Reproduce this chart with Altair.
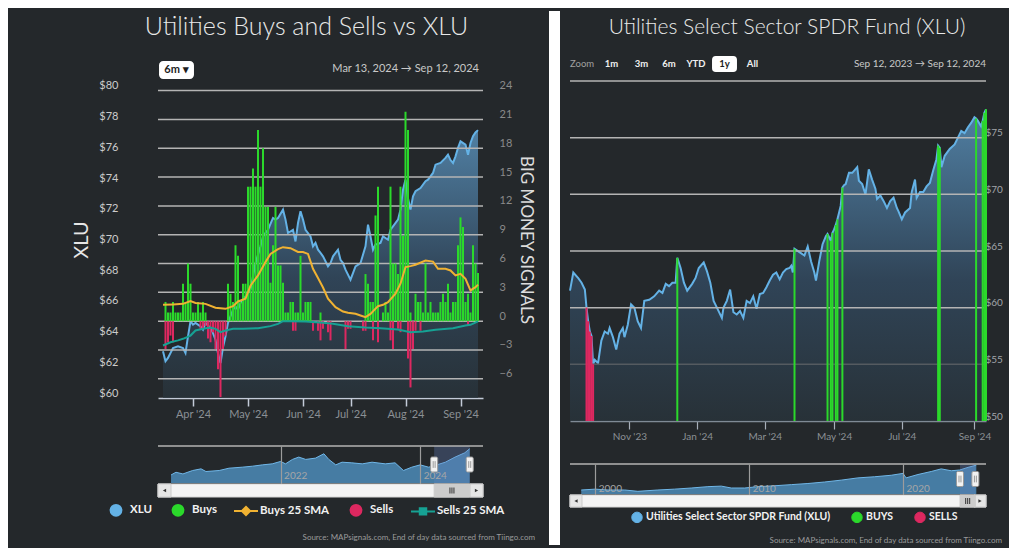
import json
import altair as alt
import pandas as pd

# ------------------------------------------------------------------ styling
BG = "#24282b"
XLU_BLUE = "#64b2e6"
GREEN = "#2bd92b"
RED = "#dd2860"
YELLOW = "#f0b232"
TEAL = "#16a294"
GRID = "#b4b4b4"
FONT = "Lato"
SOURCE = "Source: MAPsignals.com, End of day data sourced from Tiingo.com"

# ------------------------------------------------------------------ LEFT panel data
# x = trading-day index, 0 = Mar 13 2024 ... 126 = Sep 12 2024
l_xlu = [(0,63.04),(1,62.39),(2,62.61),(4,63.26),(6,63.37),(8,63.26),(9,62.93),(10,64.02),(11,65.0),
         (12,64.78),(13,64.89),(15,64.67),(16,64.45),(17,64.89),(19,64.56),(20,64.23),(21,63.8),(22,62.9),
         (23,62.28),(24,63.3),(25,64.02),(26,64.89),(28,65.75),(29,65.97),(30,65.75),(31,66.19),(33,66.62),
         (35,67.06),(36,67.93),(37,68.79),(39,69.88),(40,70.53),(41,70.75),(42,70.96),(44,71.73),(45,71.62),
         (46,71.73),(48,72.27),(49,71.62),(50,70.75),(52,70.96),(53,70.2),(54,71.4),(55,72.16),(56,71.62),
         (57,70.96),(59,70.53),(60,69.88),(61,70.1),(62,69.66),(63,69.45),(64,69.23),(66,68.58),(67,68.79),
         (68,69.23),(70,69.66),(71,69.0),(72,68.79),(73,68.36),(75,67.71),(76,68.14),(77,68.58),(79,68.79),
         (81,69.88),(82,71.29),(83,70.53),(84,69.66),(85,70.0),(87,70.1),(88,70.53),(90,70.31),(91,70.96),
         (92,71.18),(94,71.62),(95,72.27),(96,73.57),(97,74.22),(98,73.0),(99,72.27),(100,73.14),(101,73.47),
         (103,73.68),(105,74.12),(106,74.22),(108,74.66),(109,75.2),(111,75.31),(113,75.64),(114,75.85),
         (115,75.5),(116,75.31),(117,75.74),(118,76.29),(119,76.72),(121,76.5),(122,75.85),(123,76.61),
         (124,77.05),(125,77.3),(126,77.45)]
l_buys = [(1,2.0),(2,0.9),(3,0.9),(4,2.0),(5,0.9),(6,0.9),(7,0.9),(8,3.9),(9,2.0),(10,6.0),(11,3.9),(12,0.9),
          (13,0.9),(14,2.0),(15,0.9),(16,2.0),(17,0.9),(26,3.9),(27,2.85),(28,2.0),(29,7.9),(30,6.8),(31,2.0),
          (32,3.9),(33,3.9),(34,14),(35,14),(36,15.9),(37,14),(38,19.9),(39,14),(40,18),(41,11.9),(42,11.9),
          (43,4),(44,7.9),(45,11.9),(46,5.8),(47,5.8),(48,4),(49,0.9),(50,0.9),(51,2),(52,2),(53,0.9),(54,0.9),
          (55,6.8),(56,0.9),(57,2),(58,2),(59,2),(63,0.9),(81,4.9),(82,3.9),(83,2.0),(84,2.0),(85,11),(86,14),
          (88,0.9),(89,2.0),(90,0.9),(91,14),(92,6),(93,6),(94,4.9),(95,14),(96,8.9),(97,21.8),(98,19.9),
          (99,0.9),(101,2.85),(102,2.0),(103,2.0),(104,0.9),(105,6),(106,0.9),(107,2.0),(108,0.9),(109,0.9),
          (110,0.9),(111,2.0),(112,2.85),(113,2.0),(114,3.9),(115,0.9),(116,2.0),(117,2.0),(118,7.9),
          (119,10.8),(120,9.8),(121,2.0),(122,2.85),(123,0.9),(124,7.9),(125,6),(126,5)]
l_sells = [(1,-2.9),(2,-2.2),(3,-1.5),(4,-2.2),(15,-0.8),(16,-0.8),(17,-0.5),(18,-1.8),(19,-2.2),(20,-1.15),
           (21,-2.9),(22,-5.0),(23,-7.9),(24,-2.9),(25,-1.5),(52,-1.0),(53,-1.0),(60,-1.0),(62,-1.0),(63,-2.0),
           (64,-0.8),(66,-1.15),(67,-2.0),(73,-2.9),(74,-0.8),(75,-0.8),(80,-1.0),(81,-1.0),(84,-2.0),(86,-2.2),
           (91,-2.0),(92,-2.9),(94,-0.8),(95,-1.15),(98,-3.9),(99,-6.9),(100,-2.9),(101,-1.0),(103,-1.0),
           (122,-0.5)]
l_buys_sma = [(0,1.7),(4,1.74),(8,1.8),(11,2.08),(13,1.9),(17,1.8),(21,1.39),(25,1.28),(28,1.56),(30,2.05),
              (33,2.33),(35,3.7),(38,4.76),(41,6.15),(43,7.0),(46,7.5),(48,7.7),(51,7.6),(54,7.2),(56,7.2),
              (58,7.0),(60,5.45),(62,4.5),(64,3.5),(66,2.33),(69,1.46),(72,1.0),(74,0.87),(77,0.76),(79,0.59),
              (81,0.42),(83,0.76),(86,1.56),(88,1.7),(90,1.98),(93,2.85),(95,3.9),(97,5.63),(99,5.73),
              (101,5.87),(105,6.3),(108,6.2),(110,5.45),(113,5.45),(115,5.28),(117,4.76),(119,4.93),(121,4.4),
              (123,3.2),(125,3.54),(126,3.8)]
l_sells_sma = [(0,-2.53),(3,-2.2),(6,-2.0),(8,-1.84),(11,-1.5),(13,-0.97),(16,-0.8),(19,-0.66),(21,-0.8),
               (23,-1.15),(25,-0.97),(28,-0.8),(32,-0.8),(38,-0.73),(43,-0.52),(46,-0.28),(48,0.0),(51,0.0),
               (57,-0.03),(64,-0.17),(68,-0.28),(74,-0.52),(81,-0.66),(87,-0.73),(94,-0.87),(99,-1.15),
               (104,-1.08),(109,-0.9),(116,-0.73),(121,-0.45),(123,-0.38),(126,-0.03)]
l_tick_day = [12, 34, 56, 75, 97, 119]
l_tick_lab = ["Apr '24", "May '24", "Jun '24", "Jul '24", "Aug '24", "Sep '24"]
l_price_ticks = [60, 62, 64, 66, 68, 70, 72, 74, 76, 78, 80]
l_signal_ticks = [-6, -3, 0, 3, 6, 9, 12, 15, 18, 21, 24]
# navigator (decimal year, level)
l_nav = [(2020.43,48.7),(2020.5,51.6),(2020.6,49.8),(2020.74,53.5),(2020.86,55.3),(2020.93,52.4),
         (2021.12,53.5),(2021.26,56.0),(2021.45,57.1),(2021.6,58.2),(2021.74,59.6),(2021.88,60.7),
         (2022.0,63.3),(2022.07,60.7),(2022.17,65.5),(2022.26,68.0),(2022.36,65.5),(2022.5,66.9),
         (2022.62,71.6),(2022.69,65.5),(2022.79,59.6),(2022.88,62.5),(2023.02,61.8),(2023.17,60.7),
         (2023.31,62.5),(2023.5,60.7),(2023.64,61.8),(2023.76,53.5),(2023.88,57.1),(2024.0,59.6),
         (2024.12,57.1),(2024.21,58.9),(2024.36,62.5),(2024.5,68.0),(2024.64,72.7),(2024.71,77.1)]
l_nav_years = [2022, 2024]
l_nav_domain = [2020.243, 2024.9]
l_nav_sel = [2024.2, 2024.71]
l_series = ["XLU", "Buys", "Buys 25 SMA", "Sells", "Sells 25 SMA"]

# ------------------------------------------------------------------ RIGHT panel data
# x = trading-day index, 0 = Sep 12 2023 ... 252 = Sep 12 2024
r_xlu = [(0,61.5),(2,63.1),(5,62.6),(7,62.2),(9,61.6),(10,60.0),(11,58.8),(12,57.9),(13,57.5),(14,55.0),
         (15,55.4),(17,55.1),(19,57.1),(21,57.9),(23,57.7),(24,58.2),(26,57.4),(28,56.3),(30,57.7),(32,58.2),
         (33,57.4),(35,58.5),(37,60.3),(39,60.0),(41,58.8),(43,58.2),(45,60.6),(48,60.7),(51,61.0),(54,61.5),
         (56,61.3),(58,62.1),(60,61.9),(62,62.2),(64,62.2),(65,64.4),(67,63.5),(69,62.2),(71,61.5),(74,62.1),
         (76,62.6),(78,63.5),(81,64.0),(83,63.2),(85,62.2),(87,60.6),(89,60.0),(92,59.1),(93,60.0),(95,60.6),
         (97,61.6),(99,59.6),(101,59.4),(103,59.7),(105,59.1),(107,60.6),(109,60.4),(111,61.0),(113,59.9),
         (115,61.2),(117,61.3),(119,61.8),(121,62.4),(123,62.9),(125,63.1),(127,62.5),(129,63.1),(131,63.4),
         (133,63.5),(134,63.7),(135,63.1),(136,65.2),(139,64.9),(142,64.6),(144,65.4),(146,64.1),(148,63.1),
         (149,62.4),(151,64.1),(153,65.6),(155,66.3),(156,66.5),(158,65.9),(159,66.6),(160,66.9),(161,67.3),
         (162,67.8),(163,68.4),(164,69.0),(165,70.6),(166,70.8),(167,70.9),(169,71.9),(171,71.9),(174,72.4),
         (175,71.2),(177,70.9),(179,70.0),(181,72.2),(183,71.3),(185,70.5),(186,69.6),(188,69.9),(190,69.4),
         (192,68.8),(194,69.4),(196,69.7),(198,68.8),(199,68.5),(201,67.8),(203,68.4),(206,68.8),(207,70.2),
         (209,71.3),(210,69.7),(212,70.2),(214,70.2),(216,70.7),(218,71.0),(220,72.1),(222,73.1),(223,74.3),
         (224,74.1),(225,72.4),(227,73.4),(230,74.0),(233,74.4),(235,75.0),(237,75.6),(239,75.4),(241,75.9),
         (243,76.3),(245,76.8),(246,76.7),(247,76.5),(249,76.0),(250,76.5),(251,77.2),(252,77.5)]
r_buy_days = [65, 136, 156, 158, 159, 161, 162, 165, 223, 224, 246, 250, 251, 252]
r_sell_days = [10, 11, 12, 13, 14]
r_tick_day = [36, 77, 118, 160, 201, 245]
r_tick_lab = ["Nov '23", "Jan '24", "Mar '24", "May '24", "Jul '24", "Sep '24"]
r_price_ticks = [50, 55, 60, 65, 70, 75]
r_grid_light = [60, 65, 70, 75, 80]
r_grid_dark = [55]
r_nav = [(1999.09,10.7),(2000.0,13.0),(2000.83,10.7),(2001.91,10.7),(2002.77,7.1),(2004.07,10.7),
         (2005.16,13.0),(2006.24,16.0),(2007.32,19.6),(2008.19,21.0),(2008.84,16.0),(2009.71,16.0),
         (2010.57,19.6),(2011.66,22.0),(2012.74,25.0),(2013.82,28.0),(2014.9,32.0),(2015.98,37.0),
         (2017.07,43.0),(2018.15,46.0),(2019.23,50.0),(2020.0,55.0),(2020.2,43.0),(2020.97,52.0),
         (2021.83,60.0),(2022.48,67.0),(2023.13,62.0),(2023.68,64.0),(2024.22,71.0),(2024.76,77.0)]
r_nav_years = [2000, 2010, 2020]
r_nav_domain = [1998.36, 2025.39]
r_nav_sel = [2023.7, 2024.7]
r_series = ["Utilities Select Sector SPDR Fund (XLU)", "BUYS", "SELLS"]


# ------------------------------------------------------------------ helpers
def frame(pairs, a, b):
    return pd.DataFrame({a: [p[0] for p in pairs], b: [p[1] for p in pairs]})


def tick_expr(vals, labs):
    return json.dumps(labs) + "[indexof(" + json.dumps(vals) + ", datum.value)]"


def rrect(hw, hh, r):
    f = lambda v: round(v, 3)
    return (f"M{f(-hw + r)},{f(-hh)}H{f(hw - r)}A{r},{r} 0 0 1 {f(hw)},{f(-hh + r)}V{f(hh - r)}"
            f"A{r},{r} 0 0 1 {f(hw - r)},{f(hh)}H{f(-hw + r)}A{r},{r} 0 0 1 {f(-hw)},{f(hh - r)}"
            f"V{f(-hh + r)}A{r},{r} 0 0 1 {f(-hw + r)},{f(-hh)}Z")


def grad():
    return alt.Gradient(gradient="linear", x1=1, x2=1, y1=1, y2=0,
                        stops=[alt.GradientStop(color="#29353d", offset=0),
                               alt.GradientStop(color="#35506a", offset=0.45),
                               alt.GradientStop(color="#64a6d8", offset=1)])


def ind(c):
    return (c.resolve_scale(x="independent", y="independent", fill="independent",
                            stroke="independent", shape="independent")
             .resolve_legend(fill="independent", stroke="independent", shape="independent"))


one = pd.DataFrame({"k": [0]})
HANDLE = rrect(0.47, 1.0, 0.2) + "M-0.13,-0.45V0.45M0.13,-0.45V0.45"
GRIP = "M-1,-1.5V1.5M0,-1.5V1.5M1,-1.5V1.5"


def txt(s, x, y, size, color, weight="normal", align="center"):
    return alt.Chart(one).mark_text(text=s, font=FONT, fontSize=size, fontWeight=weight, color=color,
                                    align=align, baseline="middle").encode(x=alt.value(x), y=alt.value(y))


def button(x, y, hw, hh, size):
    return alt.Chart(one).mark_point(shape=rrect(hw, hh, 0.4), size=size, filled=True, fill="#ffffff",
                                     stroke="#ffffff", opacity=1).encode(x=alt.value(x), y=alt.value(y))


def navigator(nav_pairs, years, domain, sel, ydom, width, height, label_pad):
    nx = alt.X("yr:Q", scale=alt.Scale(domain=domain, nice=False, zero=False),
               axis=alt.Axis(values=years, format="d", title=None, grid=True, gridColor="#9c9c9c",
                             gridWidth=1.2, domain=False, ticks=False, labelAlign="left",
                             labelPadding=label_pad, labelOffset=3, labelColor="#a6a6a6",
                             labelFontSize=10, labelFont=FONT, zindex=1, labelOverlap=False))
    ny = alt.Y("v:Q", scale=alt.Scale(domain=ydom, nice=False, zero=False), axis=None)
    area = alt.Chart(frame(nav_pairs, "yr", "v")).mark_area(
        color="#559fd7", line={"color": "#70b7e8", "strokeWidth": 1}).encode(x=nx, y=ny, y2=alt.datum(ydom[0]))
    top = alt.Chart(pd.DataFrame({"yr": [domain[0]], "yr2": [domain[1]], "v": [ydom[1]]})).mark_rule(
        color="#b3b3b3", strokeWidth=1.5).encode(x=nx, x2="yr2:Q", y=ny)
    mask = alt.Chart(pd.DataFrame({"yr": [sel[0]], "yr2": [sel[1]]})).mark_rect(
        color="#6685c2", opacity=0.3).encode(x=nx, x2="yr2:Q")
    mid = (ydom[0] + ydom[1]) / 2
    handles = alt.Chart(pd.DataFrame({"yr": sel, "v": [mid, mid]})).mark_point(
        shape=HANDLE, size=225, filled=False, fill="#f2f2f2", stroke="#999999", strokeWidth=1,
        opacity=1).encode(x=nx, y=ny)
    return alt.layer(area, mask, top, handles).properties(width=width, height=height)


def scrollbar(domain, sel, width, height, series, colors, shapes, legend, source_dx, source_off):
    sx = alt.X("yr:Q", scale=alt.Scale(domain=domain, nice=False, zero=False), axis=None)
    bw = (domain[1] - domain[0]) * height / width
    track = alt.Chart(pd.DataFrame({"yr": [domain[0]], "yr2": [domain[1]]})).mark_rect(
        fill="#f4f4f4", stroke="#d6d6d6", strokeWidth=1).encode(x=sx, x2="yr2:Q")
    btns = alt.Chart(pd.DataFrame({"yr": [domain[0], domain[1] - bw], "yr2": [domain[0] + bw, domain[1]]})).mark_rect(
        fill="#e6e6e6", stroke="#cccccc", strokeWidth=1).encode(x=sx, x2="yr2:Q")
    thumb = alt.Chart(pd.DataFrame({"yr": [sel[0]], "yr2": [sel[1]]})).mark_rect(
        fill="#cccccc", stroke="#cccccc", strokeWidth=1).encode(x=sx, x2="yr2:Q")
    al = alt.Chart(pd.DataFrame({"yr": [domain[0] + bw / 2]})).mark_point(
        shape="triangle-left", size=14, filled=True, color="#333333", opacity=1).encode(x=sx)
    ar = alt.Chart(pd.DataFrame({"yr": [domain[1] - bw / 2]})).mark_point(
        shape="triangle-right", size=14, filled=True, color="#333333", opacity=1).encode(x=sx)
    grip = alt.Chart(pd.DataFrame({"yr": [(sel[0] + sel[1]) / 2]})).mark_point(
        shape=GRIP, size=16, filled=False, stroke="#333333", strokeWidth=1, opacity=1).encode(x=sx)
    enc = dict(
        x=sx,
        fill=alt.Fill("s:N", scale=alt.Scale(domain=series, range=colors), legend=legend),
        stroke=alt.Stroke("s:N", scale=alt.Scale(domain=series, range=colors), legend=legend),
    )
    if shapes is not None:
        enc["shape"] = alt.Shape("s:N", scale=alt.Scale(domain=series, range=shapes), legend=legend)
    leg = alt.Chart(pd.DataFrame({"s": series, "yr": [domain[0]] * len(series)})).transform_filter(
        "false").mark_point(filled=True, opacity=1).encode(**enc)
    return alt.layer(track, btns, thumb, al, ar, grip, leg).properties(
        width=width, height=height,
        title=alt.TitleParams(text=SOURCE, orient="bottom", anchor="end", frame="group", dx=source_dx,
                              offset=source_off, fontSize=8, font=FONT, fontWeight="normal", color="#9b9b9b"))


# ------------------------------------------------------------------ LEFT main chart
L_W, L_H = 325, 317
l_price_dom = [60, 80.65]
l_sig_dom = [-8, 25.0]
l_xaxis = alt.Axis(values=l_tick_day, labelExpr=tick_expr(l_tick_day, l_tick_lab), title=None, grid=False,
                   domainColor="#c3cbd8", domainWidth=1.5, tickColor="#c3cbd8", tickWidth=1.5, tickSize=8,
                   labelColor="#8b9095", labelFontSize=11, labelFont=FONT, labelPadding=2, labelOverlap=False)
lx = alt.X("day:Q", scale=alt.Scale(domain=[0, 126], nice=False, zero=False), axis=l_xaxis)
l_py = alt.Y("price:Q", scale=alt.Scale(domain=l_price_dom, nice=False, zero=False),
             axis=alt.Axis(orient="left", values=l_price_ticks, labelExpr="'$' + datum.value", title="XLU",
                           grid=False, domain=False, ticks=False, labelPadding=40, labelOffset=-5,
                           labelColor="#cccccc", labelFontSize=11, labelFont=FONT, titleFont=FONT,
                           titleFontSize=20, titleFontWeight="normal", titleColor="#e6e6e6", titlePadding=7,
                           labelOverlap=False))
sig_scale = alt.Scale(domain=l_sig_dom, nice=False, zero=False)
sig_axis = alt.Axis(orient="right", values=l_signal_ticks, title="BIG MONEY SIGNALS", grid=False, domain=False,
                    ticks=False, labelPadding=16, labelOffset=-5, labelColor="#8a8a8a", labelFontSize=11,
                    labelFont=FONT, titleFont=FONT, titleFontSize=17, titleFontWeight="normal",
                    titleColor="#dcdcdc", titlePadding=5, labelOverlap=False)


def sy(f):
    return alt.Y(f, scale=sig_scale, axis=sig_axis)


l_area = alt.Chart(frame(l_xlu, "day", "price")).mark_area(
    color=grad(), line={"color": XLU_BLUE, "strokeWidth": 2}).encode(x=lx, y=l_py, y2=alt.datum(60))
l_grid = alt.Chart(pd.DataFrame({"val": l_signal_ticks})).mark_rule(color=GRID, strokeWidth=1.5).encode(
    y=sy("val:Q"))
l_buy_bars = alt.Chart(frame(l_buys, "day", "val")).mark_bar(color=GREEN, size=2).encode(
    x=lx, y=sy("val:Q"), y2=alt.datum(0))
l_sell_bars = alt.Chart(frame(l_sells, "day", "val")).mark_bar(color=RED, size=2).encode(
    x=lx, y=sy("val:Q"), y2=alt.datum(0))
l_bsma_line = alt.Chart(frame(l_buys_sma, "day", "val")).mark_line(color=YELLOW, strokeWidth=2).encode(
    x=lx, y=sy("val:Q"))
l_ssma_line = alt.Chart(frame(l_sells_sma, "day", "val")).mark_line(color=TEAL, strokeWidth=2).encode(
    x=lx, y=sy("val:Q"))
l_sig = alt.layer(l_grid, l_buy_bars, l_sell_bars, l_bsma_line, l_ssma_line)
l_tool = alt.layer(
    button(18.5, -11, 2.06, 1.0, 256),
    txt("6m ▾", 18.5, -11, 11, "#1d1d1d", "bold"),
    txt("Mar 13, 2024   →   Sep 12, 2024", 321, -12, 11, "#c8c8c8", align="right"),
)
L_main = alt.layer(l_area, l_sig, l_tool).resolve_scale(y="independent").properties(
    width=L_W, height=L_H,
    title=alt.TitleParams(text="Utilities Buys and Sells vs XLU", fontSize=25, font=FONT, fontWeight=300,
                          color="#e8e8e8", anchor="middle", offset=18, dx=-14))

L_nav = navigator(l_nav, l_nav_years, l_nav_domain, l_nav_sel, [40, 80], L_W, 37, -13)

CIRCLE = "M-0.45,0A0.45,0.45 0 1 0 0.45,0A0.45,0.45 0 1 0 -0.45,0Z"
SMA_DIAMOND = "M-1,0H1M-0.34,0L0,-0.34L0.34,0L0,0.34Z"
SMA_SQUARE = "M-1,0H1M-0.27,-0.27H0.27V0.27H-0.27Z"
l_legend = alt.Legend(orient="none", legendX=-55, legendY=13, direction="horizontal", title=None,
                      labelColor="#f2f2f2", labelFont=FONT, labelFontSize=11.5, labelFontWeight="bold",
                      symbolSize=576, symbolStrokeWidth=2, symbolOpacity=1, columnPadding=13, labelOffset=1,
                      labelLimit=300)
L_scroll = scrollbar(l_nav_domain, l_nav_sel, L_W, 13, l_series, [XLU_BLUE, GREEN, YELLOW, RED, TEAL],
                     [CIRCLE, CIRCLE, SMA_DIAMOND, CIRCLE, SMA_SQUARE], l_legend, 52, 14)

left_panel = ind(alt.vconcat(L_main, ind(alt.vconcat(L_nav, L_scroll, spacing=0)), spacing=26))

# ------------------------------------------------------------------ RIGHT main chart
R_W, R_H = 416, 340
r_xaxis = alt.Axis(values=r_tick_day, labelExpr=tick_expr(r_tick_day, r_tick_lab), title=None, grid=False,
                   domainColor="#7f8a95", domainWidth=1.5, tickColor="#a8b0bb", tickWidth=1.2, tickSize=8,
                   labelColor="#8b9095", labelFontSize=10, labelFont=FONT, labelPadding=2, labelOverlap=False)
rx = alt.X("day:Q", scale=alt.Scale(domain=[0, 252], nice=False, zero=False), axis=r_xaxis)
ry = alt.Y("price:Q", scale=alt.Scale(domain=[50, 80], nice=False, zero=False),
           axis=alt.Axis(orient="right", values=r_price_ticks, labelExpr="'$' + datum.value", title=None,
                         grid=False, domain=False, ticks=False, labelPadding=-1, labelOffset=-5,
                         labelColor="#a2a6aa", labelFontSize=10, labelFont=FONT, labelOverlap=False))
r_price_map = dict(r_xlu)
r_area = alt.Chart(frame(r_xlu, "day", "price")).mark_area(
    color=grad(), line={"color": XLU_BLUE, "strokeWidth": 2}).encode(x=rx, y=ry, y2=alt.datum(50))
r_gl = alt.Chart(pd.DataFrame({"price": r_grid_light})).mark_rule(color=GRID, strokeWidth=1.5).encode(y=ry)
r_gd = alt.Chart(pd.DataFrame({"price": r_grid_dark})).mark_rule(color="#555b60", strokeWidth=1.5).encode(y=ry)
r_buy_rules = alt.Chart(pd.DataFrame({"day": r_buy_days, "price": [r_price_map[d] for d in r_buy_days]})).mark_rule(
    color=GREEN, strokeWidth=2).encode(x=rx, y=ry, y2=alt.datum(50))
r_sell_rules = alt.Chart(pd.DataFrame({"day": r_sell_days, "price": [r_price_map[d] for d in r_sell_days]})).mark_rule(
    color=RED, strokeWidth=2).encode(x=rx, y=ry, y2=alt.datum(50))
r_tool = alt.layer(
    txt("Zoom", 0, -17, 9.5, "#a0a0a0", align="left"),
    txt("1m", 41.5, -17, 9.5, "#f0f0f0", "bold"),
    txt("3m", 71.5, -17, 9.5, "#f0f0f0", "bold"),
    txt("6m", 99, -17, 9.5, "#f0f0f0", "bold"),
    txt("YTD", 126, -17, 9.5, "#f0f0f0", "bold"),
    button(154.5, -17, 1.64, 1.0, 196),
    txt("1y", 154.5, -17, 9.5, "#1d1d1d", "bold"),
    txt("All", 182.5, -17, 9.5, "#f0f0f0", "bold"),
    txt("Sep 12, 2023  →  Sep 12, 2024", R_W, -17, 10, "#c8c8c8", align="right"),
)
R_main = alt.layer(r_area, r_gl, r_gd, r_buy_rules, r_sell_rules, r_tool).properties(
    width=R_W, height=R_H,
    title=alt.TitleParams(text="Utilities Select Sector SPDR Fund (XLU)", fontSize=21, font=FONT,
                          fontWeight=300, color="#e8e8e8", anchor="middle", offset=15, dx=9))

R_nav = navigator(r_nav, r_nav_years, r_nav_domain, r_nav_sel, [0, 80], R_W, 30, -11)
r_legend = alt.Legend(orient="none", legendX=61, legendY=16, direction="horizontal", title=None,
                      labelColor="#f2f2f2", labelFont=FONT, labelFontSize=10.5, labelFontWeight="bold",
                      symbolSize=110, symbolStrokeWidth=1, symbolOpacity=1, symbolType="circle",
                      columnPadding=18, labelOffset=3, labelLimit=400)
R_scroll = scrollbar(r_nav_domain, r_nav_sel, R_W, 12, r_series, [XLU_BLUE, GREEN, RED], None, r_legend, 16, 12)

right_panel = ind(alt.vconcat(R_main, ind(alt.vconcat(R_nav, R_scroll, spacing=0)), spacing=22))

# white gap between the two dark panels (square caps reach the chart's top and bottom edges)
strip = alt.Chart(one).mark_rule(color="#ffffff", strokeWidth=11, strokeCap="square").encode(
    x=alt.value(16.5), y=alt.value(-64.5), y2=alt.value(458.5)).properties(width=22, height=1)

chart = ind(alt.hconcat(left_panel, strip, right_panel, spacing=3)).properties(
    background=BG, padding={"left": 63, "top": 0, "right": 6, "bottom": 0}
).configure_view(strokeWidth=0)

chart.save("out.html", embed_options={"renderer": "svg", "actions": False})
